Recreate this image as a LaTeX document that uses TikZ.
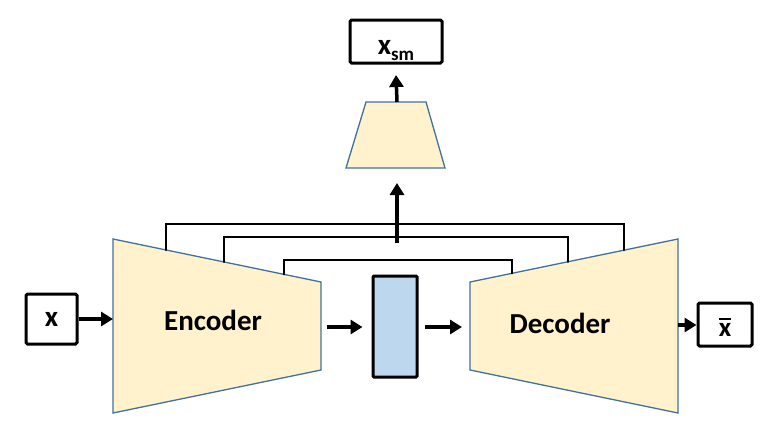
\documentclass[tikz,border=0pt]{standalone}
\usepackage{fontspec}
\setmainfont{Carlito}
\usetikzlibrary{arrows.meta}
\usetikzlibrary{calc}
\definecolor{netfill}{HTML}{FFF2CC}
\definecolor{netline}{HTML}{41719C}
\definecolor{codefill}{HTML}{BDD7EE}
\tikzset{box/.style={draw,line width=3pt,rounded corners=1.5pt,inner sep=0pt,font=\fontsize{29}{29}\selectfont\bfseries}}
\tikzset{net/.style={draw=netline,fill=netfill,line width=1.3pt,line join=miter}}
\tikzset{arr/.style={line width=3.5pt,-{Triangle[length=12pt,width=14pt]}}}
\tikzset{skip/.style={line width=2.2pt,line cap=round}}
\tikzset{l/.style={font=\fontsize{29}{29}\selectfont\bfseries}}

\begin{document}
\begin{tikzpicture}[x=1pt,y=-1pt]
          \useasboundingbox (0,0) rectangle (766,434);
          % encoder / decoder
          \filldraw[net] (113,239) coordinate (enc1) -- (321,282) coordinate (enc2)
            -- (321,370) coordinate (enc3) -- (113,413) coordinate (enc4) -- cycle;
          \filldraw[net] (470,282) coordinate (dec1) -- (678,239) coordinate (dec2)
            -- (678,413) coordinate (dec3) -- (470,370) coordinate (dec4) -- cycle;
          \filldraw[net] (346,168) coordinate (sm1) -- (366,102) coordinate (sm2)
            -- (426,102) coordinate (sm3) -- (445,168) coordinate (sm4) -- cycle;
          \node[l] (Enc) at (213,320) {Encoder};
          \node[l] (Dec) at (560,323) {Decoder};
          % code
          \node[box,fill=codefill,rounded corners=1pt,minimum width=44pt,minimum height=101pt] (Z) at (395,326.5) {};
          % boxes
          \node[box,minimum width=51pt,minimum height=50pt] (X) at (51.5,319) {x};
          \node[box,minimum width=54pt,minimum height=43pt] (Xbar) at (725,324.5)
            {\raisebox{-12pt}[0pt][0pt]{\vbox{\hrule height 2.2pt\kern 3pt\hbox{\fontsize{27}{27}\selectfont\bfseries x}}}};
          \node[box,minimum width=92pt,minimum height=43pt] (Xsm) at (396,41.5)
            {\raisebox{-13pt}[0pt][0pt]{x\raisebox{-6pt}{\fontsize{19}{19}\selectfont sm}}};
          % skips
          \coordinate (top1) at (395,224);
          \coordinate (top2) at (395,237);
          \coordinate (top3) at (395,260);
          \coordinate (a1) at ($(enc1)!0.255!(enc2)$);
          \coordinate (b1) at ($(dec1)!0.74!(dec2)$);
          \coordinate (a2) at ($(enc1)!0.534!(enc2)$);
          \coordinate (b2) at ($(dec1)!0.471!(dec2)$);
          \coordinate (a3) at ($(enc1)!0.822!(enc2)$);
          \coordinate (b3) at ($(dec1)!0.202!(dec2)$);
          \draw[skip] (a1) -- (a1 |- top1) -| (b1);
          \draw[skip] (a2) -- (a2 |- top2) -| (b2);
          \draw[skip] (a3) -- (a3 |- top3) -| (b3);
          \coordinate (join) at (397,243);
          % arrows
          \draw[arr] (join) -- (397,183);
          \draw[arr] (397,102) -- (Xsm.south |- 0,75);
          \draw[arr] (X.east) -- (X.east -| enc1);
          \draw[arr,shorten >=9pt] (327,327) -- (Z.west |- 0,327);
          \draw[arr,shorten >=8pt] (Z.east |- 0,327) ++(6,0) -- (dec1 |- 0,327);
          \draw[arr] (dec2 |- 0,325) -- (Xbar.west |- 0,325);
        \end{tikzpicture}
\end{document}
